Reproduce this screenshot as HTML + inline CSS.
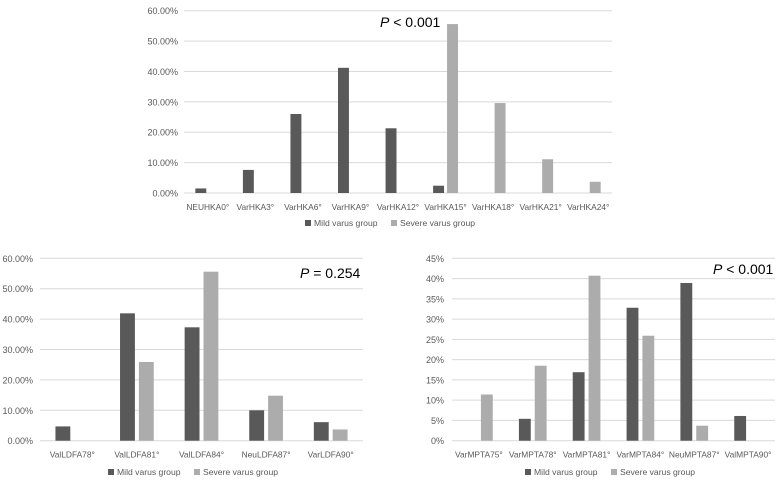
<!DOCTYPE html>
<html><head><meta charset="utf-8">
<style>
body{margin:0;background:#fff;width:780px;height:482px;overflow:hidden}
svg{display:block;font-family:"Liberation Sans","Noto Sans CJK KR",sans-serif}
</style></head>
<body>
<svg id="svg" width="780" height="482" viewBox="0 0 780 482"></svg>
<script>
const hkaCats=["NEUHKA0°","VarHKA3°","VarHKA6°","VarHKA9°","VarHKA12°","VarHKA15°","VarHKA18°","VarHKA21°","VarHKA24°"];
const hkaMild=[1.5,7.6,26.0,41.2,21.3,2.4,0,0,0];
const hkaSevere=[0,0,0,0,0,55.6,29.6,11.1,3.7];
const hkaTicks=[0,10,20,30,40,50,60];
const ldfaCats=["ValLDFA78°","ValLDFA81°","ValLDFA84°","NeuLDFA87°","VarLDFA90°"];
const ldfaMild=[4.7,41.9,37.3,10.0,6.1];
const ldfaSevere=[0,25.9,55.6,14.8,3.7];
const ldfaTicks=[0,10,20,30,40,50,60];
const mptaCats=["VarMPTA75°","VarMPTA78°","VarMPTA81°","VarMPTA84°","NeuMPTA87°","ValMPTA90°"];
const mptaMild=[0,5.4,16.9,32.8,38.9,6.1];
const mptaSevere=[11.4,18.5,40.7,25.9,3.7,0];
const mptaTicks=[0,5,10,15,20,25,30,35,40,45];

const NS="http://www.w3.org/2000/svg";
const svg=document.getElementById('svg');
function mk(tag,attrs,parent,text){const e=document.createElementNS(NS,tag);for(const k in attrs)e.setAttribute(k,attrs[k]);if(text!==undefined)e.textContent=text;parent.appendChild(e);return e;}

function chart(o){
  const g=mk('g',{},svg);
  
  
  const max=o.ticks[o.ticks.length-1];
  const y=v=>o.y0-(v/max)*(o.y0-o.y1);
  const cw=(o.x1-o.x0)/o.cats.length;
  const xc=i=>o.x0+cw*(i+0.5);
  o.ticks.forEach(t=>{
    const l=mk('line',{x1:o.x0,x2:o.x1,y1:y(t),y2:y(t),stroke:'#d9d9d9','stroke-width':1},g);
    
    
    const tx=mk('text',{x:o.lx,y:y(t)+3.5,'text-anchor':'end','font-size':9,fill:'#595959'},g,o.fmt(t));
    
    
  });
  const bw=cw*o.bf, gap=o.gap;
  o.cats.forEach((c,i)=>{
    const cx=xc(i);
    const b1=mk('rect',{x:cx-gap/2-bw,y:y(o.mild[i]),width:bw,height:y(0)-y(o.mild[i]),fill:'#595959'},g);
    
    
    const b2=mk('rect',{x:cx+gap/2,y:y(o.sev[i]),width:bw,height:y(0)-y(o.sev[i]),fill:'#acacac'},g);
    
    
    const t=mk('text',{x:cx,y:o.y0+17,'text-anchor':'middle','font-size':8.4,fill:'#595959'},g,c);
    
    
  });
  const lg=mk('g',{},g);
  
  
  const lx=o.legX, ly=o.legY;
  mk('rect',{x:lx,y:ly-6,width:6,height:6,fill:'#595959'},lg);
  mk('text',{x:lx+9,y:ly,'font-size':8.6,fill:'#595959'},lg,'Mild varus group');
  mk('rect',{x:lx+86,y:ly-6,width:6,height:6,fill:'#acacac'},lg);
  mk('text',{x:lx+95,y:ly,'font-size':8.6,fill:'#595959'},lg,'Severe varus group');
  const p=mk('text',{x:o.px,y:o.py,'font-size':14,fill:'#000'},g);
  
  
  mk('tspan',{'font-style':'italic'},p,'P');
  mk('tspan',{},p,o.ptxt);
}
const pct2=t=>t.toFixed(2)+'%';
chart({name:'hka-chart',cats:hkaCats,mild:hkaMild,sev:hkaSevere,ticks:hkaTicks,fmt:pct2,
  x0:184,x1:612,y0:193,y1:10.7,lx:178,bf:0.23,gap:3,legX:305,legY:226,px:380,py:27,ptxt:' < 0.001'});
chart({name:'ldfa-chart',cats:ldfaCats,mild:ldfaMild,sev:ldfaSevere,ticks:ldfaTicks,fmt:pct2,
  x0:40,x1:363,y0:440.7,y1:258.3,lx:33,bf:0.23,gap:4,legX:108,legY:475,px:300,py:278,ptxt:' = 0.254'});
chart({name:'mpta-chart',cats:mptaCats,mild:mptaMild,sev:mptaSevere,ticks:mptaTicks,fmt:t=>t+'%',
  x0:452,x1:775,y0:440.7,y1:258.3,lx:444,bf:0.22,gap:4,legX:525,legY:475,px:713,py:274,ptxt:' < 0.001'});
</script>
</body></html>
